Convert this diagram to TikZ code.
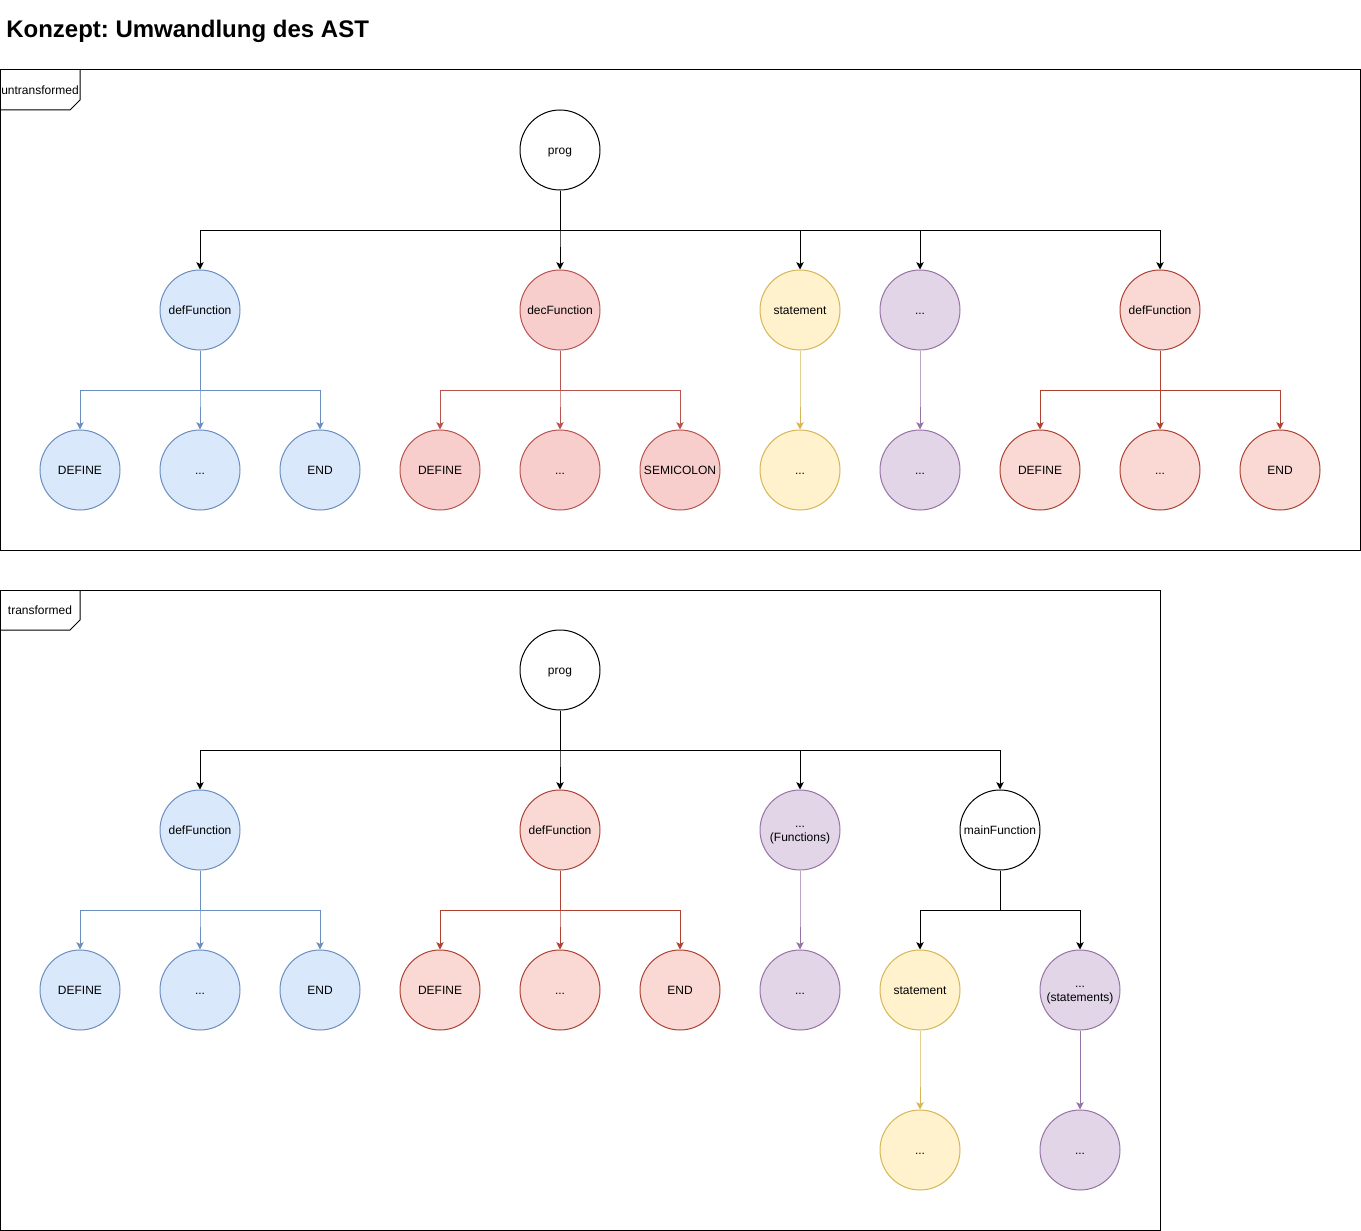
\documentclass[tikz,border=0pt]{standalone}
\usepackage{fontspec}
\setmainfont{Liberation Sans}
\usetikzlibrary{arrows.meta}
\frenchspacing

% colour sets: fill / stroke
\definecolor{blueF}{HTML}{DAE8FC}\definecolor{blueS}{HTML}{6C8EBF}
\definecolor{redF}{HTML}{F8CECC}\definecolor{redS}{HTML}{B85450}
\definecolor{roseF}{HTML}{FAD9D5}\definecolor{roseS}{HTML}{AE4132}
\definecolor{yelF}{HTML}{FFF2CC}\definecolor{yelS}{HTML}{D6B656}
\definecolor{purF}{HTML}{E1D5E7}\definecolor{purS}{HTML}{9673A6}

\tikzset{
  ast/.style={circle, draw, line width=0.75pt, minimum size=60pt, inner sep=0pt,
    font=\fontsize{9}{10.5}\selectfont, align=center, text=black,
    text height=6.45pt, text depth=0pt},
  twoline/.style={text height=16.95pt},
  plain/.style={ast, draw=black, fill=white},
  bluenode/.style={ast, draw=blueS, fill=blueF},
  rednode/.style={ast, draw=redS, fill=redF},
  rosenode/.style={ast, draw=roseS, fill=roseF},
  yelnode/.style={ast, draw=yelS, fill=yelF},
  purnode/.style={ast, draw=purS, fill=purF},
  link/.style={line width=0.75pt, -{Stealth[length=5.5pt,width=5.5pt,inset=1.3pt]}},
  frame/.style={draw=black, line width=0.75pt},
  framelabel/.style={font=\fontsize{9}{10.5}\selectfont, inner sep=0pt,
    text height=6.45pt, text depth=0pt},
}

% parent-to-child elbow connector: down 40px, across, down
\newcommand{\treelink}[3]{\draw[link,#1] (#2.south) -- ++(0,40) -| (#3.north);}

\begin{document}
\begin{tikzpicture}[x=0.75pt, y=-0.75pt]
\useasboundingbox (0,0) rectangle (1361,1231);

% heading
\node[anchor=base west, inner sep=0pt, font=\fontsize{18}{22}\selectfont\bfseries] (title) at (6,38) {Konzept: Umwandlung des AST};

% ---------------- frame: untransformed ----------------
\draw[frame] (0,70) rectangle (1360,550);
\draw[frame] (0,110) -- (70,110) -- (80,100) -- (80,70);
\node[framelabel] (flabelU) at (40,90) {untransformed};

\node[plain]    (uprog) at (560,150) {prog};
\node[bluenode] (udefA) at (200,310) {defFunction};
\node[rednode]  (udec)  at (560,310) {decFunction};
\node[yelnode]  (ustmt) at (800,310) {statement};
\node[purnode]  (udots) at (920,310) {...};
\node[rosenode] (udefB) at (1160,310) {defFunction};

\node[bluenode] (uA1) at (80,470) {DEFINE};
\node[bluenode] (uA2) at (200,470) {...};
\node[bluenode] (uA3) at (320,470) {END};
\node[rednode]  (uD1) at (440,470) {DEFINE};
\node[rednode]  (uD2) at (560,470) {...};
\node[rednode]  (uD3) at (680,470) {SEMICOLON};
\node[yelnode]  (uS1) at (800,470) {...};
\node[purnode]  (uP1) at (920,470) {...};
\node[rosenode] (uB1) at (1040,470) {DEFINE};
\node[rosenode] (uB2) at (1160,470) {...};
\node[rosenode] (uB3) at (1280,470) {END};

\treelink{black}{uprog}{udefA}
\treelink{black}{uprog}{udec}
\treelink{black}{uprog}{ustmt}
\treelink{black}{uprog}{udots}
\treelink{black}{uprog}{udefB}

\treelink{blueS}{udefA}{uA1}
\treelink{blueS}{udefA}{uA2}
\treelink{blueS}{udefA}{uA3}
\treelink{redS}{udec}{uD1}
\treelink{redS}{udec}{uD2}
\treelink{redS}{udec}{uD3}
\treelink{yelS}{ustmt}{uS1}
\treelink{purS}{udots}{uP1}
\treelink{roseS}{udefB}{uB1}
\treelink{roseS}{udefB}{uB2}
\treelink{roseS}{udefB}{uB3}

% ---------------- frame: transformed ----------------
\draw[frame] (0,590) rectangle (1160,1230);
\draw[frame] (0,630) -- (70,630) -- (80,620) -- (80,590);
\node[framelabel] (flabelT) at (40,610) {transformed};

\node[plain]    (tprog) at (560,670) {prog};
\node[bluenode] (tdefA) at (200,830) {defFunction};
\node[rosenode] (tdefB) at (560,830) {defFunction};
\node[purnode, twoline] (tfun) at (800,830) {...\\(Functions)};
\node[plain]    (tmain) at (1000,830) {mainFunction};

\node[bluenode] (tA1) at (80,990) {DEFINE};
\node[bluenode] (tA2) at (200,990) {...};
\node[bluenode] (tA3) at (320,990) {END};
\node[rosenode] (tB1) at (440,990) {DEFINE};
\node[rosenode] (tB2) at (560,990) {...};
\node[rosenode] (tB3) at (680,990) {END};
\node[purnode]  (tF1) at (800,990) {...};
\node[yelnode]  (tstmt) at (920,990) {statement};
\node[purnode, twoline] (tsts) at (1080,990) {...\\(statements)};

\node[yelnode] (tS1) at (920,1150) {...};
\node[purnode] (tP1) at (1080,1150) {...};

\treelink{black}{tprog}{tdefA}
\treelink{black}{tprog}{tdefB}
\treelink{black}{tprog}{tfun}
\treelink{black}{tprog}{tmain}

\treelink{blueS}{tdefA}{tA1}
\treelink{blueS}{tdefA}{tA2}
\treelink{blueS}{tdefA}{tA3}
\treelink{roseS}{tdefB}{tB1}
\treelink{roseS}{tdefB}{tB2}
\treelink{roseS}{tdefB}{tB3}
\treelink{purS}{tfun}{tF1}
\treelink{black}{tmain}{tstmt}
\treelink{black}{tmain}{tsts}
\treelink{yelS}{tstmt}{tS1}
\treelink{purS}{tsts}{tP1}
\end{tikzpicture}
\end{document}
